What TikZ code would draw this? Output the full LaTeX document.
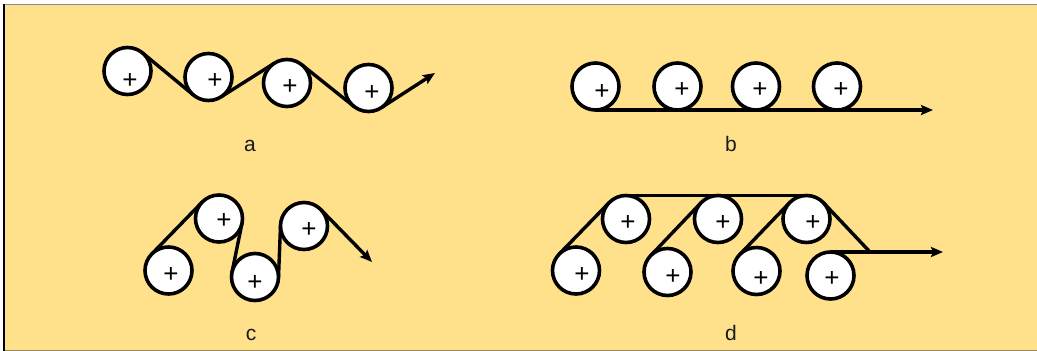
\documentclass[tikz,border=0pt]{standalone}
\usepackage{fontspec}
\setmainfont{Liberation Sans}
\usetikzlibrary{calc,arrows.meta}
\definecolor{bg}{RGB}{255,225,140}
\newcommand\rr{23.5pt}
% internal (crossing) tangent between two equal rolls
\newcommand\crossT[4]{\path let \p1=($(#2)-(#1)$) in
  coordinate (#4a) at ($(#1)!\rr!#3*acos(47/veclen(\x1,\y1)):(#2)$)
  coordinate (#4b) at ($(#2)!\rr!#3*acos(47/veclen(\x1,\y1)):(#1)$);}
% tangent from a point to a roll
\newcommand\tanP[4]{\path let \p1=($(#2)-(#1)$) in
  coordinate (#4) at ($(#1)!\rr!#3*acos(23.5/veclen(\x1,\y1)):(#2)$);}
\tikzset{
  roll/.style={circle, draw=black, fill=white, line width=3.6pt, minimum size=47pt, inner sep=0pt, outer sep=0pt},
  plussign/.style={font=\fontsize{26}{26}\selectfont, inner sep=0pt, text=black},
  belt/.style={line width=3.4pt, draw=black},
  beltarrow/.style={belt, -{Stealth[length=12pt,width=10pt,inset=2pt]}},
  lbl/.style={font=\fontsize{21}{21}\selectfont, anchor=base, inner sep=0pt, text=black!90}
}
\begin{document}
\begin{tikzpicture}[x=1pt,y=-1pt]
\useasboundingbox (0,0) rectangle (1037,351);
\fill[white] (0,0) rectangle (1037,351);
\fill[bg] (4,4) rectangle (1037,351);
\draw[black!45, line width=1.5pt] (4,4.5) -- (1037,4.5);
\draw[black!40!bg, line width=1pt] (4,350.5) -- (1037,350.5);
\draw[black, line width=2pt] (4,4) -- (4,351);

% ---------- panel a ----------
\coordinate (pa1) at (127.5,71);
\coordinate (pa2) at (208.5,77);
\coordinate (pa3) at (287,83);
\coordinate (pa4) at (368.5,88);
\coordinate (tipA) at (435,73);
\crossT{pa1}{pa2}{1}{sa1}
\crossT{pa2}{pa3}{-1}{sa2}
\crossT{pa3}{pa4}{1}{sa3}
\tanP{pa4}{tipA}{-1}{sa4}
\draw[belt] (sa1a) -- (sa1b);
\draw[belt] (sa2a) -- (sa2b);
\draw[belt] (sa3a) -- (sa3b);
\draw[beltarrow] (sa4) -- (tipA);
\node[roll] (ra1) at (pa1) {};
\node[roll] (ra2) at (pa2) {};
\node[roll] (ra3) at (pa3) {};
\node[roll] (ra4) at (pa4) {};
\node[plussign] (xa1) at (130,81) {+};
\node[plussign] (xa2) at (215,81) {+};
\node[plussign] (xa3) at (290,87) {+};
\node[plussign] (xa4) at (372,93) {+};
\node[lbl] (la) at (250,151) {a};

% ---------- panel b ----------
\node[roll] (rb1) at (595.5,86.5) {};
\node[roll] (rb2) at (677.5,86.5) {};
\node[roll] (rb3) at (756,86.5) {};
\node[roll] (rb4) at (837,86.5) {};
\coordinate (tipB) at (933,110);
\draw[beltarrow] (rb1.south) -- (tipB);
\node[plussign] (xb1) at (602,91.5) {+};
\node[plussign] (xb2) at (682,89.5) {+};
\node[plussign] (xb3) at (760,89.5) {+};
\node[plussign] (xb4) at (841,89.5) {+};
\node[lbl] (lb) at (731,151) {b};

% ---------- panel c ----------
\coordinate (pc1) at (168.5,270.5);
\coordinate (pc2) at (219,218.5);
\coordinate (pc3) at (255,277);
\coordinate (pc4) at (304,226);
\coordinate (tipC) at (372,262);
\coordinate (sc0a) at ($(pc1)!\rr!90:(pc2)$);
\coordinate (sc0b) at ($(pc2)!\rr!-90:(pc1)$);
\crossT{pc2}{pc3}{1}{sc1}
\crossT{pc3}{pc4}{-1}{sc2}
\tanP{pc4}{tipC}{1}{sc3}
\draw[belt] (sc0a) -- (sc0b);
\draw[belt] (sc1a) -- (sc1b);
\draw[belt] (sc2a) -- (sc2b);
\draw[beltarrow] (sc3) -- (tipC);
\node[roll] (rc1) at (pc1) {};
\node[roll] (rc2) at (pc2) {};
\node[roll] (rc3) at (pc3) {};
\node[roll] (rc4) at (pc4) {};
\node[plussign] (xc1) at (171,275) {+};
\node[plussign] (xc2) at (224,221) {+};
\node[plussign] (xc3) at (255,283) {+};
\node[plussign] (xc4) at (309,230) {+};
\node[lbl] (lc) at (251,340) {c};

% ---------- panel d ----------
\coordinate (pd1) at (576,270.5);
\coordinate (pd2) at (667.5,272);
\coordinate (pd3) at (756.5,271);
\coordinate (pd4) at (830.5,275.5);
\coordinate (pt1) at (626,219);
\coordinate (pt2) at (718,219);
\coordinate (pt3) at (806.5,219);
\coordinate (J) at (870,252);
\coordinate (tipD) at (943,252);
\foreach \i in {1,2,3}{
  \coordinate (sd\i a) at ($(pd\i)!\rr!90:(pt\i)$);
  \coordinate (sd\i b) at ($(pt\i)!\rr!-90:(pd\i)$);
  \draw[belt] (sd\i a) -- (sd\i b);
}
\tanP{pt3}{J}{1}{sdr}
\node[roll] (rt1) at (pt1) {};
\node[roll] (rt2) at (pt2) {};
\node[roll] (rt3) at (pt3) {};
\node[roll] (rd1) at (pd1) {};
\node[roll] (rd2) at (pd2) {};
\node[roll] (rd3) at (pd3) {};
\node[roll] (rd4) at (pd4) {};
\draw[belt] (rt1.north) -- (rt3.north);
\draw[belt] (sdr) -- (J);
\draw[beltarrow] (rd4.north) -- (tipD);
\node[plussign] (xd1) at (582,275) {+};
\node[plussign] (xd2) at (673,277) {+};
\node[plussign] (xd3) at (761,279) {+};
\node[plussign] (xd4) at (832,279) {+};
\node[plussign] (xt1) at (628,223) {+};
\node[plussign] (xt2) at (723,223) {+};
\node[plussign] (xt3) at (813,223) {+};
\node[lbl] (ld) at (731,340) {d};
\end{tikzpicture}
\end{document}
